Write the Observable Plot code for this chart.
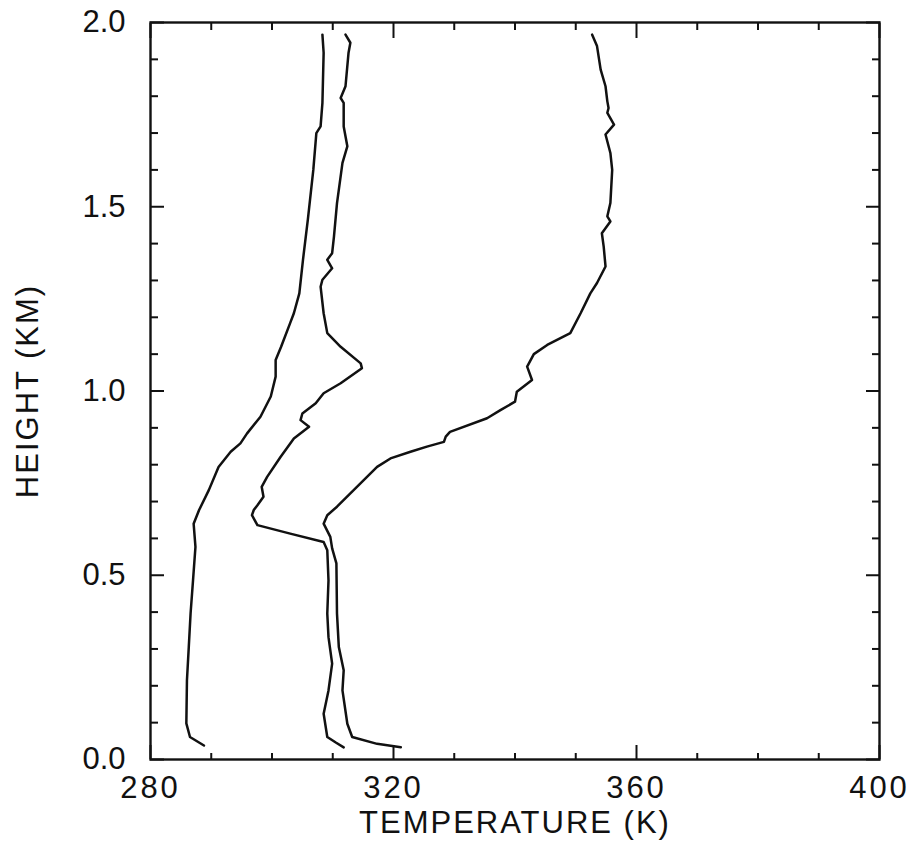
<!DOCTYPE html>
<html>
<head>
<meta charset="utf-8">
<script src="https://cdn.jsdelivr.net/npm/d3@7"></script>
<script src="https://cdn.jsdelivr.net/npm/@observablehq/plot@0.6"></script>
<style>
  html, body { margin: 0; padding: 0; background: #fff; }
  #chart svg { display: block; }
</style>
</head>
<body>
<div id="chart"></div>
<script>
// Tick values
const xMajorTicks = [280, 320, 360, 400];
const xMinorTicks = [290, 300, 310, 330, 340, 350, 370, 380, 390];
const yMajorTicks = [0, 0.5, 1.0, 1.5, 2.0];
const yMinorTicks = [0.1, 0.2, 0.3, 0.4, 0.6, 0.7, 0.8, 0.9, 1.1, 1.2, 1.3, 1.4, 1.6, 1.7, 1.8, 1.9];

// Profile A (coolest)
const heightA = [0.038, 0.061, 0.098, 0.215, 0.305, 0.397, 0.486, 0.577, 0.640, 0.677, 0.731, 0.794, 0.835, 0.858, 0.885, 0.930, 0.985, 1.039, 1.084, 1.12, 1.185, 1.211, 1.265, 1.356, 1.465, 1.60, 1.70, 1.718, 1.782, 1.918, 1.967];
const tempA   = [288.8, 286.5, 285.9, 286.0, 286.3, 286.6, 287.0, 287.4, 287.1, 288.0, 289.6, 291.2, 293.2, 294.8, 295.9, 298.1, 299.8, 300.6, 300.6, 301.5, 303.0, 303.6, 304.5, 305.1, 305.9, 306.8, 307.3, 308.0, 308.3, 308.5, 308.3];

// Profile B (middle)
const heightB = [0.033, 0.046, 0.061, 0.124, 0.1875, 0.26, 0.332, 0.396, 0.486, 0.568, 0.590, 0.613, 0.636, 0.663, 0.677, 0.69, 0.713, 0.740, 0.767, 0.821, 0.871, 0.903, 0.921, 0.939, 0.967, 0.994, 1.021, 1.062, 1.075, 1.12, 1.157, 1.211, 1.283, 1.302, 1.333, 1.356, 1.374, 1.419, 1.51, 1.619, 1.664, 1.718, 1.782, 1.795, 1.827, 1.918, 1.945, 1.967];
const tempB   = [311.8, 310.5, 309.1, 308.5, 309.3, 309.9, 309.3, 309.1, 309.3, 309.1, 308.5, 303.0, 297.6, 296.7, 297.0, 297.6, 298.6, 298.3, 299.2, 301.4, 303.6, 306.1, 304.7, 305.0, 307.2, 308.5, 311.3, 314.8, 314.6, 311.3, 309.1, 308.5, 308.0, 308.3, 309.9, 309.1, 309.9, 310.2, 310.7, 311.6, 312.4, 311.8, 311.8, 311.3, 312.1, 312.6, 312.9, 312.1];

// Profile C (warmest)
const heightC = [0.033, 0.0425, 0.061, 0.097, 0.1875, 0.242, 0.305, 0.396, 0.532, 0.573, 0.604, 0.640, 0.663, 0.686, 0.722, 0.794, 0.817, 0.835, 0.849, 0.862, 0.876, 0.889, 0.926, 0.948, 0.971, 0.998, 1.03, 1.066, 1.10, 1.125, 1.157, 1.211, 1.265, 1.293, 1.338, 1.392, 1.428, 1.46, 1.474, 1.51, 1.60, 1.646, 1.696, 1.723, 1.755, 1.768, 1.786, 1.827, 1.872, 1.936, 1.967];
const tempC   = [321.2, 317.3, 313.2, 312.4, 311.6, 311.8, 311.0, 310.7, 310.6, 309.9, 309.6, 308.5, 309.1, 310.7, 312.9, 317.3, 319.5, 322.8, 325.5, 328.3, 328.6, 329.3, 335.4, 337.6, 340.0, 340.3, 342.8, 342.0, 343.1, 345.3, 349.1, 350.8, 352.4, 353.5, 354.9, 354.6, 354.3, 355.7, 355.2, 355.7, 356.0, 355.7, 354.9, 356.3, 355.2, 355.4, 355.2, 354.9, 354.1, 353.5, 352.7];

const profiles = [
  {name: "A", h: heightA, t: tempA},
  {name: "B", h: heightB, t: tempB},
  {name: "C", h: heightC, t: tempC}
];
const rows = profiles.flatMap(p => p.h.map((h, i) => ({profile: p.name, height: h, temp: p.t[i]})));

const ink = "#111";
const chart = Plot.plot({
  width: 914,
  height: 858,
  marginLeft: 150,
  marginRight: 35,
  marginTop: 22,
  marginBottom: 99,
  style: {fontFamily: "'Liberation Sans', Arial, sans-serif", fontSize: "31px", color: ink, background: "#fff"},
  x: {domain: [280, 400]},
  y: {domain: [0, 2]},
  marks: [
    // minor ticks (inward) on all sides
    Plot.axisX(xMinorTicks, {anchor: "bottom", tickSize: -6, strokeWidth: 2, tickFormat: () => "", label: null}),
    Plot.axisX(xMinorTicks, {anchor: "top", tickSize: -7, strokeWidth: 2, tickFormat: () => "", label: null}),
    Plot.axisY(yMinorTicks, {anchor: "left", tickSize: -8, strokeWidth: 2, tickFormat: () => "", label: null}),
    Plot.axisY(yMinorTicks, {anchor: "right", tickSize: -8, strokeWidth: 2, tickFormat: () => "", label: null}),
    // major ticks (inward)
    Plot.axisX(xMajorTicks, {anchor: "bottom", tickSize: -14, strokeWidth: 2, tickFormat: () => "", label: null}),
    Plot.axisX(xMajorTicks, {anchor: "top", tickSize: -15, strokeWidth: 2, tickFormat: () => "", label: null}),
    Plot.axisY(yMajorTicks, {anchor: "left", tickSize: -14, strokeWidth: 2, tickFormat: () => "", label: null}),
    Plot.axisY(yMajorTicks, {anchor: "right", tickSize: -14, strokeWidth: 2, tickFormat: () => "", label: null}),
    // labels
    Plot.axisX(xMajorTicks, {anchor: "bottom", tickSize: 0, tickPadding: 16, tickFormat: d => String(d),
      label: "TEMPERATURE (K)", labelAnchor: "center", labelOffset: 73, labelArrow: "none"}),
    Plot.axisY(yMajorTicks, {anchor: "left", tickSize: 0, tickPadding: 25, tickFormat: d => d.toFixed(1),
      label: "HEIGHT (KM)", labelAnchor: "center", labelOffset: 135, labelArrow: "none"}),
    Plot.frame({stroke: ink, strokeWidth: 2.4}),
    Plot.line(rows, {x: "temp", y: "height", z: "profile", stroke: ink, strokeWidth: 2.5, curve: "linear"})
  ]
});

document.getElementById("chart").appendChild(chart);
// letter spacing to mimic the plotter lettering
d3.select(chart).selectAll("[aria-label='x-axis tick label'] text").attr("letter-spacing", "3px");
d3.select(chart).selectAll("[aria-label='x-axis label'] text, [aria-label='y-axis label'] text").attr("letter-spacing", "2px");
</script>
</body>
</html>
